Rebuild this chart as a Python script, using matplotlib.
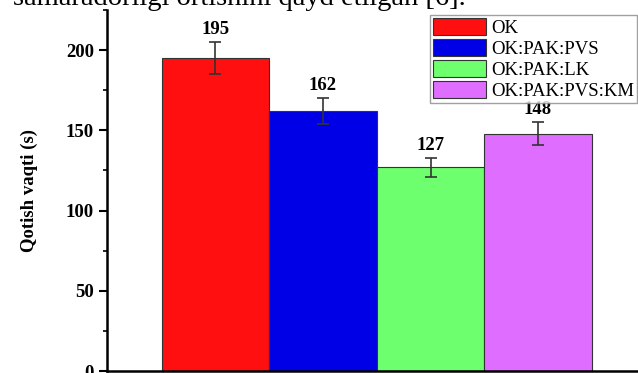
import numpy as np
import matplotlib.pyplot as plt
from matplotlib.ticker import MultipleLocator

# Setting time of the samples
samples = ["OK", "OK:PAK:PVS", "OK:PAK:LK", "OK:PAK:PVS:KM"]
times = [195, 162, 127, 148]
errors = [10, 8, 6, 7]
colors = ["#ff0f0f", "#0000e6", "#6dff6d", "#df6dff"]

plt.rcParams["font.family"] = ["Liberation Serif", "DejaVu Serif"]

fig = plt.figure(figsize=(6.38, 3.73), dpi=100)
ax = fig.add_axes([107 / 638, 2 / 373, 1 - 107 / 638, 361 / 373])

x = np.arange(len(samples))
bars = ax.bar(x, times, width=1.0, color=colors, edgecolor="#333333",
              linewidth=0.8, label=samples)
ax.errorbar(x, times, yerr=errors, fmt="none", ecolor="#333333",
            elinewidth=1.2, capsize=4, capthick=1.2)

for xi, t, e in zip(x, times, errors):
    ax.text(xi, t + e + 2.5, str(t), ha="center", va="bottom",
            fontsize=13.5, fontweight="bold")

ax.set_xlim(-1.009, 3.93)
ax.set_ylim(0, 225)
ax.set_xticks([])
ax.yaxis.set_major_locator(MultipleLocator(50))
ax.yaxis.set_minor_locator(MultipleLocator(25))
ax.tick_params(axis="y", which="major", length=6, width=1.5, labelsize=13.5)
ax.tick_params(axis="y", which="minor", length=3, width=1.2)
for lbl in ax.get_yticklabels():
    lbl.set_fontweight("bold")
ax.set_ylabel("Qotish vaqti (s)", fontsize=13.5, fontweight="bold", labelpad=20)

for side in ["top", "right"]:
    ax.spines[side].set_visible(False)
ax.spines["left"].set_linewidth(1.8)
ax.spines["bottom"].set_linewidth(1.8)

leg = ax.legend(loc="upper right", bbox_to_anchor=(1.0, 1.0 - 4 / 361),
                fontsize=13.5, frameon=True, fancybox=False, handlelength=2.8,
                handleheight=1.0, handletextpad=0.3, labelspacing=0.12,
                borderpad=0.15, borderaxespad=0.05)
leg.get_frame().set_edgecolor("#888888")
leg.get_frame().set_linewidth(1.0)

# caption line from the surrounding text, cut at the top
fig.text(13 / 638, 1 - 5 / 373, "samaradorligi ortishini qayd etilgan [6].",
         fontsize=20.5, ha="left", va="baseline")

fig.savefig("out.png", dpi=100)
plt.close(fig)
